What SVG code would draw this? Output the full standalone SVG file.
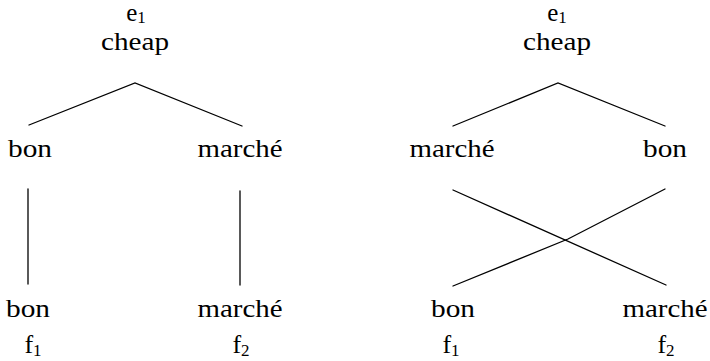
<svg xmlns="http://www.w3.org/2000/svg" width="710" height="361" viewBox="0 0 710 361">
<style>
text{font-family:'Liberation Serif','DejaVu Serif',serif;font-size:26px;fill:#000;text-anchor:middle}
.sub{font-size:17px}
.top{font-size:25px}
.edge{stroke:#000;stroke-width:1.3;fill:none;stroke-linecap:round}
</style>
<rect width="710" height="361" fill="#fff"/>
<g id="connectors">
<polyline class="edge" points="29,125 135,83 242,126"/>
<line class="edge" x1="28" y1="189" x2="28" y2="284"/>
<line class="edge" x1="240" y1="191" x2="240" y2="285"/>
<polyline class="edge" points="453,126 558,83 665,126"/>
<line class="edge" x1="453" y1="190" x2="666" y2="285"/>
<polyline class="edge" points="453,286 568,239 665,189"/>
</g>
<g id="left-root">
<text class="top" x="136" y="21">e<tspan class="sub" dy="2">1</tspan></text>
<text x="135" y="50" textLength="68" lengthAdjust="spacingAndGlyphs">cheap</text>
</g>
<g id="left-bon-e"><text x="30" y="157" textLength="44" lengthAdjust="spacingAndGlyphs">bon</text></g>
<g id="left-marche-e"><text x="240" y="157" textLength="85" lengthAdjust="spacingAndGlyphs">marché</text></g>
<g id="left-bon-f">
<text x="28" y="317" textLength="44" lengthAdjust="spacingAndGlyphs">bon</text>
<text x="33" y="353">f<tspan class="sub" dy="3">1</tspan></text>
</g>
<g id="left-marche-f">
<text x="240" y="317" textLength="85" lengthAdjust="spacingAndGlyphs">marché</text>
<text x="241" y="353">f<tspan class="sub" dy="3">2</tspan></text>
</g>
<g id="right-root">
<text class="top" x="557" y="21">e<tspan class="sub" dy="2">1</tspan></text>
<text x="557" y="50" textLength="68" lengthAdjust="spacingAndGlyphs">cheap</text>
</g>
<g id="right-marche-e"><text x="452" y="157" textLength="85" lengthAdjust="spacingAndGlyphs">marché</text></g>
<g id="right-bon-e"><text x="665" y="157" textLength="44" lengthAdjust="spacingAndGlyphs">bon</text></g>
<g id="right-bon-f">
<text x="453" y="317" textLength="44" lengthAdjust="spacingAndGlyphs">bon</text>
<text x="451" y="353">f<tspan class="sub" dy="3">1</tspan></text>
</g>
<g id="right-marche-f">
<text x="665" y="317" textLength="85" lengthAdjust="spacingAndGlyphs">marché</text>
<text x="666" y="353">f<tspan class="sub" dy="3">2</tspan></text>
</g>
</svg>
